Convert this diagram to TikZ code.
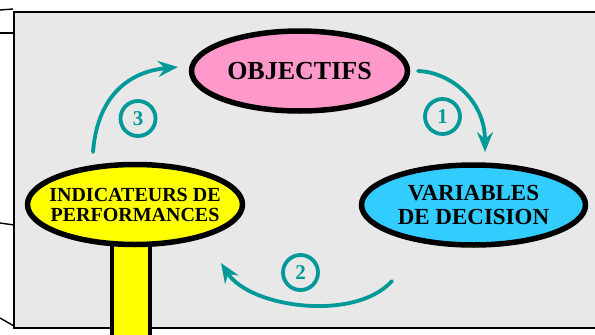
\documentclass[tikz,border=0pt]{standalone}
\usepackage{fontspec}
\setmainfont{Liberation Serif}
\usetikzlibrary{shapes.geometric,arrows.meta}
\definecolor{bgray}{HTML}{E8E8E8}
\definecolor{pinkc}{HTML}{FF99CC}
\definecolor{cyanc}{HTML}{33CCFF}
\definecolor{yellowc}{HTML}{FFFF00}
\definecolor{tealc}{HTML}{009999}
\begin{document}
\begin{tikzpicture}[x=1pt,y=-1pt,
  bubble/.style={ellipse, draw=black, line width=5.5pt, inner sep=0pt, inner xsep=-15pt, align=center},
  cyc/.style={draw=tealc, line width=3.8pt, line cap=round, -{Stealth[length=20pt,width=16pt,inset=7pt]}},
  num/.style={circle, draw=tealc, line width=3.8pt, text=tealc, minimum size=35pt, inner sep=0pt, font=\bfseries\fontsize{21}{21}\selectfont},
  side/.style={draw=black, line width=1.4pt}]
\useasboundingbox (0,0) rectangle (595,335);
% background panel
\draw[fill=bgray, line width=2.2pt] (14,12) rectangle (605,328);
% lines coming from the left
\coordinate (l1a) at (0,10);  \coordinate (l1b) at (13,9);
\coordinate (l2a) at (0,33);  \coordinate (l2b) at (14,33);
\coordinate (l3a) at (0,223); \coordinate (l3b) at (14,225);
\coordinate (l4a) at (0,318); \coordinate (l4b) at (14,326);
\draw[side] (l1a) -- (l1b);
\draw[side] (l2a) -- (l2b);
\draw[side] (l3a) -- (l3b);
\draw[side] (l4a) -- (l4b);
% yellow post
\draw[fill=yellowc, line width=4pt] (112,230) rectangle (150,345);
% ellipses
\node[bubble, fill=pinkc, minimum width=216pt, minimum height=80pt,
      font=\bfseries\fontsize{26}{28}\selectfont] (obj) at (299.5,71) {OBJECTIFS};
\node[bubble, fill=cyanc, minimum width=224pt, minimum height=80pt,
      font=\bfseries\fontsize{23}{24}\selectfont] (var) at (473.5,205) {VARIABLES\\DE DECISION};
\node[bubble, fill=yellowc, minimum width=215pt, minimum height=80pt,
      font=\bfseries\fontsize{20}{20}\selectfont] (ind) at (135,204.5) {INDICATEURS DE\\PERFORMANCES};
% cycle arrows
\coordinate (a1s) at (418,71);  \coordinate (a1e) at (485,152);
\coordinate (a2s) at (392,281); \coordinate (a2e) at (221,263);
\coordinate (a3s) at (93,152);  \coordinate (a3e) at (178,67);
\draw[cyc] (a1s) .. controls (450,72) and (485,100) .. (a1e);
\draw[cyc] (a2s) .. controls (355,322) and (250,308) .. (a2e);
\draw[cyc] (a3s) .. controls (97,100) and (125,72) .. (a3e);
% numbers
\node[num] (n1) at (442.5,116.5) {1};
\node[num] (n2) at (300.5,272.5) {2};
\node[num] (n3) at (138,118.5) {3};
\end{tikzpicture}
\end{document}
